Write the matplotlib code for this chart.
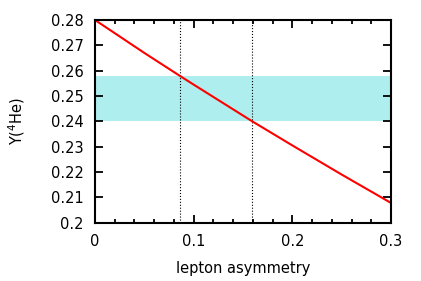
import numpy as np
import matplotlib.pyplot as plt
from matplotlib.ticker import MultipleLocator

asym = [0.0, 0.05, 0.0858, 0.1, 0.1594, 0.2, 0.25, 0.3]
yhe = [0.280, 0.2670, 0.2580, 0.2545, 0.2400, 0.2305, 0.2190, 0.2078]
band_lo, band_hi = 0.240, 0.258
cuts = [0.0858, 0.1594]

fig = plt.figure(figsize=(4.21, 2.81), dpi=100)
ax = fig.add_axes([0.2257, 0.2075, 0.703, 0.7213])

ax.axhspan(band_lo, band_hi, color='#afeeee', lw=0)
for c in cuts:
    ax.axvline(c, color='black', ls=':', lw=0.8)
ax.plot(asym, yhe, color='red', lw=1.5)

ax.set_xlim(0, 0.3)
ax.set_ylim(0.2, 0.28)
ax.xaxis.set_minor_locator(MultipleLocator(0.02))
ax.set_xticks([0, 0.1, 0.2, 0.3])
ax.set_xticklabels(['0', '0.1', '0.2', '0.3'])
yt = np.arange(0.20, 0.2801, 0.01)
ax.set_yticks(yt)
ax.set_yticklabels(['0.2'] + ['%.2f' % v for v in yt[1:]])

ax.tick_params(which='both', direction='in', top=True, right=True, labelsize=10.5, width=1.3)
ax.tick_params(which='major', length=6, pad=8)
ax.tick_params(which='minor', length=3)
for s in ax.spines.values():
    s.set_linewidth(1.5)

ax.set_xlabel('lepton asymmetry', fontsize=10.5, labelpad=9)
ax.set_ylabel('Y($^4$He)', fontsize=10.5, labelpad=17)

fig.savefig('out.png', dpi=100)
